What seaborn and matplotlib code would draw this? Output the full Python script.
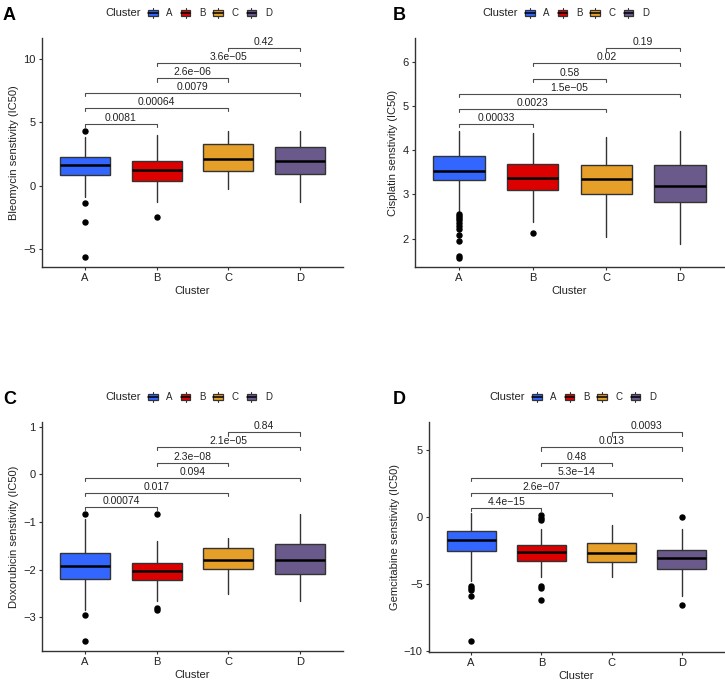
import numpy as np
import pandas as pd
import matplotlib
matplotlib.use("Agg")
import matplotlib.pyplot as plt
from matplotlib.legend_handler import HandlerBase
from matplotlib.patches import Rectangle
from matplotlib.lines import Line2D
import seaborn as sns

# ---------------- data ----------------
clusters = ["A", "B", "C", "D"]
colors = ["#3366FF", "#DD0000", "#E69F28", "#6A5A8C"]

panel_letters = ["A", "B", "C", "D"]
ylabels = ["Bleomycin senstivity (IC50)", "Cisplatin senstivity (IC50)",
           "Doxorubicin senstivity (IC50)", "Gemcitabine senstivity (IC50)"]

# Bleomycin
bleo_q1 = [0.84, 0.37, 1.18, 0.95]
bleo_med = [1.60, 1.21, 2.13, 1.95]
bleo_q3 = [2.24, 1.95, 3.32, 3.05]
bleo_lo = [-0.87, -1.26, -0.29, -1.26]
bleo_hi = [3.87, 4.00, 4.32, 4.32]
bleo_out = [[4.34, -1.34, -2.87, -5.60], [-2.45], [], []]

# Cisplatin
cis_q1 = [3.33, 3.10, 3.00, 2.82]
cis_med = [3.54, 3.37, 3.35, 3.19]
cis_q3 = [3.86, 3.70, 3.67, 3.66]
cis_lo = [2.62, 2.38, 2.04, 1.87]
cis_hi = [4.43, 4.40, 4.31, 4.44]
cis_out = [[2.57, 2.52, 2.47, 2.42, 2.36, 2.29, 2.21, 2.08, 1.95, 1.60, 1.57],
           [2.12], [], []]

# Doxorubicin
dox_q1 = [-2.19, -2.21, -1.98, -2.10]
dox_med = [-1.92, -2.03, -1.80, -1.80]
dox_q3 = [-1.66, -1.87, -1.54, -1.46]
dox_lo = [-2.84, -2.66, -2.52, -2.66]
dox_hi = [-0.93, -1.41, -1.33, -0.84]
dox_out = [[-0.84, -2.96, -3.50], [-0.84, -2.80, -2.85], [], []]

# Gemcitabine
gem_q1 = [-2.55, -3.30, -3.38, -3.88]
gem_med = [-1.70, -2.65, -2.68, -3.10]
gem_q3 = [-1.05, -2.12, -1.95, -2.50]
gem_lo = [-4.80, -4.50, -4.50, -5.88]
gem_hi = [0.30, -0.88, -0.63, -0.88]
gem_out = [[-5.20, -5.33, -5.45, -5.90, -9.30],
           [0.12, -0.05, -0.25, -5.15, -5.28, -6.20], [], [-0.03, -6.55]]

# pairwise comparisons (group1, group2) and p-value labels, bracket heights
pairs = [("A", "B"), ("A", "C"), ("A", "D"), ("B", "C"), ("B", "D"), ("C", "D")]
bleo_p = ["0.0081", "0.00064", "0.0079", "2.6e\u221206", "3.6e\u221205", "0.42"]
bleo_py = [4.84, 6.10, 7.29, 8.45, 9.66, 10.84]
cis_p = ["0.00033", "0.0023", "1.5e\u221205", "0.58", "0.02", "0.19"]
cis_py = [4.59, 4.94, 5.28, 5.62, 5.97, 6.31]
dox_p = ["0.00074", "0.017", "0.094", "2.3e\u221208", "2.1e\u221205", "0.84"]
dox_py = [-0.69, -0.39, -0.08, 0.245, 0.57, 0.88]
gem_p = ["4.4e\u221215", "2.6e\u221207", "5.3e\u221214", "0.48", "0.013", "0.0093"]
gem_py = [0.68, 1.80, 2.93, 4.05, 5.20, 6.33]

yticks = [[-5, 0, 5, 10], [2, 3, 4, 5, 6], [-3, -2, -1, 0, 1], [-10, -5, 0, 5]]
ylims = [(-6.39, 11.63), (1.36, 6.54), (-3.71, 1.10), (-10.1, 7.1)]

panels = [
    (bleo_q1, bleo_med, bleo_q3, bleo_lo, bleo_hi, bleo_out, bleo_p, bleo_py),
    (cis_q1, cis_med, cis_q3, cis_lo, cis_hi, cis_out, cis_p, cis_py),
    (dox_q1, dox_med, dox_q3, dox_lo, dox_hi, dox_out, dox_p, dox_py),
    (gem_q1, gem_med, gem_q3, gem_lo, gem_hi, gem_out, gem_p, gem_py),
]

# ---------------- style ----------------
sns.set_theme(style="ticks")
plt.rcParams["font.family"] = ["Liberation Sans", "DejaVu Sans"]
palette = sns.color_palette(colors)

W, H = 725, 680
fig = plt.figure(figsize=(W / 100, H / 100), dpi=100)

# axes boxes in pixels: left, top, right, bottom
ax_px = [(42, 38, 343, 267), (415, 38, 724, 267),
         (42, 422, 343, 651), (429, 422, 724, 652)]
letter_px = [(3, 16), (393, 16), (3, 400), (393, 400)]
legend_px = [(105, 13), (482, 13), (105, 397), (489, 397)]


class BoxKeyHandler(HandlerBase):
    def create_artists(self, legend, orig_handle, xdescent, ydescent,
                       width, height, fontsize, trans):
        fc = orig_handle.get_facecolor()
        bw = width
        bh = height * 0.66
        y0 = (height - bh) / 2 - ydescent
        x0 = -xdescent
        rect = Rectangle((x0, y0), bw, bh, facecolor=fc, edgecolor="#333333",
                         lw=0.9, transform=trans)
        med = Line2D([x0, x0 + bw], [y0 + bh / 2] * 2, color="black", lw=1.1,
                     transform=trans)
        wt = Line2D([x0 + bw / 2] * 2, [y0 + bh, y0 + bh + height * 0.2],
                    color="#333333", lw=0.8, transform=trans)
        wb = Line2D([x0 + bw / 2] * 2, [y0, y0 - height * 0.2],
                    color="#333333", lw=0.8, transform=trans)
        return [rect, med, wt, wb]


fs = 7.5
for i, (q1, med, q3, lo, hi, outs, plabs, pys) in enumerate(panels):
    l, t, r, b = ax_px[i]
    ax = fig.add_axes([l / W, 1 - b / H, (r - l) / W, (b - t) / H])
    stats = []
    for k in range(len(clusters)):
        stats.append(dict(med=med[k], q1=q1[k], q3=q3[k], whislo=lo[k],
                          whishi=hi[k], fliers=np.array(outs[k]),
                          label=clusters[k]))
    bp = ax.bxp(stats, positions=range(len(clusters)), widths=0.7,
                patch_artist=True, showcaps=False,
                boxprops=dict(edgecolor="#333333", linewidth=1.0),
                medianprops=dict(color="black", linewidth=1.8),
                whiskerprops=dict(color="#333333", linewidth=1.0),
                flierprops=dict(marker="o", markerfacecolor="black",
                                markeredgecolor="black", markersize=3.6))
    for patch, c in zip(bp["boxes"], palette):
        patch.set_facecolor(c)

    # significance brackets
    tip = (ylims[i][1] - ylims[i][0]) * 0.014
    for (g1, g2), lab, yv in zip(pairs, plabs, pys):
        x1, x2 = clusters.index(g1), clusters.index(g2)
        ax.plot([x1, x1, x2, x2], [yv - tip, yv, yv, yv - tip],
                color="#4d4d4d", lw=0.8, zorder=3)
        ax.text((x1 + x2) / 2, yv + tip * 0.35, lab, ha="center", va="bottom",
                fontsize=fs, color="#222222")

    ax.set_xlim(-0.6, 3.6)
    ax.set_ylim(*ylims[i])
    ax.set_yticks(yticks[i])
    ax.set_xticks(range(len(clusters)))
    ax.set_xticklabels(clusters)
    ax.set_xlabel("Cluster", fontsize=fs + 0.5, color="#222222", labelpad=2)
    ax.set_ylabel(ylabels[i], fontsize=fs + 0.5, color="#222222", labelpad=3)
    ax.tick_params(axis="both", labelsize=fs + 0.5, colors="#333333",
                   length=2.5, width=0.8, pad=2, labelcolor="#222222")
    sns.despine(ax=ax)
    for s in ["left", "bottom"]:
        ax.spines[s].set_linewidth(1.0)
        ax.spines[s].set_color("#333333")

    # panel letter
    lx, ly = letter_px[i]
    fig.text(lx / W, 1 - ly / H, panel_letters[i], fontsize=13,
             fontweight="bold", va="center", ha="left", color="black")

    # legend
    gx, gy = legend_px[i]
    fig.text(gx / W, 1 - gy / H, "Cluster", fontsize=fs + 0.5, va="center",
             ha="left", color="#222222")
    handles = [Rectangle((0, 0), 1, 1, facecolor=c) for c in palette]
    fig.legend(handles, clusters, loc="center left",
               bbox_to_anchor=((gx + 43) / W, 1 - gy / H), ncol=4,
               frameon=False, fontsize=fs - 0.5, handlelength=1.0,
               handleheight=1.2, handletextpad=0.9, columnspacing=0.8,
               borderpad=0, borderaxespad=0,
               handler_map={Rectangle: BoxKeyHandler()})

fig.savefig("out.png", dpi=100)
